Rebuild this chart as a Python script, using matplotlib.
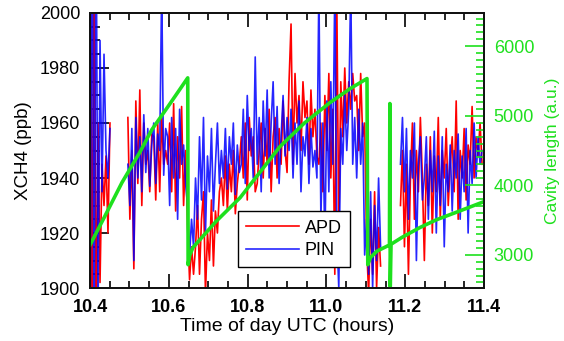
import numpy as np
import matplotlib
matplotlib.use("Agg")
import matplotlib.pyplot as plt
from matplotlib.ticker import MultipleLocator

plt.rcParams['font.family'] = ['Liberation Sans', 'DejaVu Sans']

nan = np.nan

# readout times (hours UTC), one sample every 0.005 h
time_h = np.linspace(10.385, 11.395, 201)

# XCH4 from the PIN detector (ppb)
pin = ([1960, 1950, 2050, 1870, 2060, 1875, 2045, 1890, 1990, 1935, 1985, 1950, 1940, 1958]
       + [nan] * 8
       + [1945, 1930, 1958, 1910, 1962, 1940, 1955, 1935, 1963, 1942, 1958, 1937, 1952]
       + [1960, 1938, 1956, 1950, 2010, 1941, 1958]
       + [1955, 1930, 1962, 1940, 1958, 1925, 1965, 1945, 1952, 1938]
       + [1930, 1912, 1925, 1915]
       + [1940, 1925, 1955, 1932, 1962, 1920, 1948, 1935, 1958, 1928, 1945, 1960, 1938]
       + [1950, 1940, 1958, 1936, 1955, 1945, 1960, 1934, 1952, 1942]
       + [1945, 1965, 1938, 1970, 1950, 1958, 1940, 1984, 1945, 1962, 1935, 1968,
          1948, 1972, 1940, 1960, 1975, 1945, 1966, 1938, 1955, 1970, 1948, 1962]
       + [1950, 1965, 1940, 1960, 1945, 1968, 1935, 1955, 1948, 1962, 1938, 1958, 1944, 1950, 1940]
       + [2010]
       + [1925, 1960, 1915, 1968, 1935, 1975, 1945, 2010, 1920, 1900, 1958, 1945,
          1970, 1950, 1965, 2010, 1945, 1962]
       + [1940, 1965, 1945, 1960, 1912]
       + [1925, 1905, 1935, 1900, 1930, 1910, 1940, 1915]
       + [nan] * 9
       + [1945, 1962, 1935, 1958, 1925, 1950, 1940, 1960, 1910, 1945, 1955, 1932]
       + [1940, 1955, 1925, 1950, 1935, 1957, 1920, 1948, 1930, 1955, 1915, 1945,
          1935, 1952, 1928, 1950, 1940, 1956, 1925, 1948, 1935, 1958, 1920, 1950,
          1938, 1960, 1940, 1955, 1945, 1950])

# XCH4 from the APD detector (ppb)
apd = ([1955, 1945, 1880, 2040, 1885, 2030, 1880, 1960, 1902, 1945, 1930, 1948, 1920, 1960]
       + [nan] * 8
       + [1962, 1925, 1950, 1907, 1968, 1938, 1972, 1930, 1960, 1945, 1950, 1935, 1956]
       + [1955, 1932, 1960, 1935, 1962, 1945, 1950]
       + [1945, 1960, 1935, 1967, 1928, 1955, 1940, 1966, 1930, 1950]
       + [1922, 1903, 1915, 1905]
       + [1915, 1930, 1905, 1925, 1935, 1898, 1920, 1910, 1932, 1908, 1928, 1920, 1935]
       + [1940, 1930, 1948, 1928, 1945, 1935, 1950, 1927, 1938, 1945]
       + [1955, 1940, 1960, 1932, 1962, 1948, 1955, 1935, 1938, 1950, 1960, 1940,
          1958, 1945, 1965, 1935, 1955, 1962, 1940, 1958, 1945, 1968, 1950, 1942]
       + [1975, 1996, 1945, 1978, 1960, 1970, 1950, 1975, 1962, 1968, 1945, 1972, 1955, 1965, 1948]
       + [1945]
       + [1960, 1935, 1970, 1950, 1978, 1940, 1965, 1905, 2005, 1920, 1975, 1955,
          1980, 1960, 1975, 1965, 1978, 1968]
       + [1970, 1950, 1978, 1955, 1960]
       + [1915, 1898, 1925, 1905, 1935, 1900, 1922, 1908]
       + [nan] * 9
       + [1930, 1950, 1915, 1945, 1905, 1940, 1960, 1925, 1950, 1935, 1962, 1940]
       + [1910, 1945, 1930, 1955, 1920, 1948, 1935, 1962, 1925, 1950, 1940, 1958,
          1930, 1945, 1955, 1935, 1968, 1925, 1950, 1940, 1958, 1932, 1952, 1945,
          1966, 1940, 1955, 1948, 1960, 1945])

# cavity length (a.u.)
cav_t = [10.400, 10.4355, 10.481, 10.526, 10.557, 10.598, 10.648, 10.649, 10.653,
         10.661, 10.720, 10.781, 10.882, 10.945, 11.009, 11.060, 11.103,
         11.105, 11.112, 11.128, 11.153, 11.160, 11.161, 11.162, 11.164, 11.192,
         11.237, 11.278, 11.334, 11.400]
cav_len = [3140, 3530, 4037, 4470, 4801, 5133, 5546, 2856, 2990,
           3101, 3480, 3821, 4556, 4900, 5190, 5390, 5536,
           2856, 2960, 3050, 3120, 3140, 5176, 2540, 3150, 3250,
           3390, 3500, 3620, 3764]

green = '#1ee01e'

fig = plt.figure(figsize=(5.64, 3.41), dpi=100)
ax = fig.add_axes([0.1596, 0.1554, 0.6986, 0.8065])
ax2 = ax.twinx()

l1, = ax.plot(time_h, apd, color='#ff0000', lw=1.2, label='APD')
l2, = ax.plot(time_h, pin, color='#0000ff', lw=1.2, alpha=0.85, label='PIN')
ax2.plot(cav_t, cav_len, color=green, lw=2.6)

ax.set_xlim(10.4, 11.4)
ax.set_ylim(1900, 2000)
ax2.set_ylim(2520, 6480)

ax.xaxis.set_major_locator(MultipleLocator(0.2))
ax.xaxis.set_minor_locator(MultipleLocator(0.05))
ax.yaxis.set_major_locator(MultipleLocator(20))
ax.yaxis.set_minor_locator(MultipleLocator(5))
ax2.yaxis.set_major_locator(MultipleLocator(1000))
ax2.yaxis.set_minor_locator(MultipleLocator(100))

ax.tick_params(axis='x', which='both', direction='in', top=True, labelsize=13, pad=8)
ax.tick_params(axis='x', which='major', length=10, width=1.2)
ax.tick_params(axis='x', which='minor', length=5, width=1.2)
ax.tick_params(axis='y', which='both', direction='in', right=False, labelsize=13, pad=7)
ax.tick_params(axis='y', which='major', length=14, width=1.2)
ax.tick_params(axis='y', which='minor', length=7, width=1.2)
for lab in ax.get_xticklabels():
    lab.set_fontweight('bold')

ax2.tick_params(axis='y', which='both', direction='in', colors=green, labelsize=13, pad=7)
ax2.tick_params(axis='y', which='major', length=14, width=1.2)
ax2.tick_params(axis='y', which='minor', length=6, width=1.2)

for a in (ax, ax2):
    for s in a.spines.values():
        s.set_linewidth(1.3)
        s.set_color('#111111')

ax.set_xlabel('Time of day UTC (hours)', fontsize=14, labelpad=1)
ax.set_ylabel('XCH4 (ppb)', fontsize=13.5, labelpad=6)
ax2.set_ylabel('Cavity length (a.u.)', fontsize=12.5, color=green, labelpad=8)

leg = ax2.legend([l1, l2], ['APD', 'PIN'], loc='lower left', bbox_to_anchor=(0.376, 0.076),
                 borderaxespad=0, fontsize=13, handlelength=2.9, handletextpad=0.35,
                 labelspacing=0.3, borderpad=0.45,
                 fancybox=False, framealpha=1, edgecolor='k')
leg.get_frame().set_linewidth(1.0)

fig.savefig('out.png', dpi=100)
